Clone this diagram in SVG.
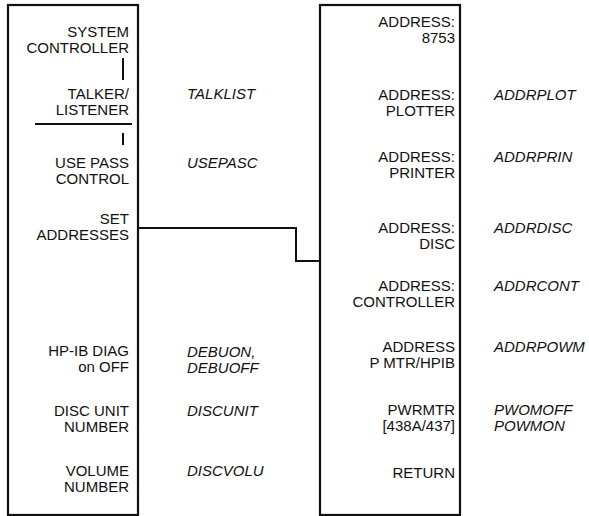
<svg xmlns="http://www.w3.org/2000/svg" width="589" height="516" viewBox="0 0 589 516">
<style>
.box{fill:none;stroke:#111;stroke-width:2.2}
.ln{fill:none;stroke:#111;stroke-width:2}
.t{font-family:"Liberation Sans",Arial,sans-serif;font-size:15px;fill:#111;text-anchor:end}
.i{font-family:"Liberation Sans",Arial,sans-serif;font-size:15px;font-style:italic;fill:#111}
</style>
<rect width="589" height="516" fill="#fff"/>
<g id="menu-left">
<rect class="box" x="8" y="5" width="130" height="510"/>
<text class="t" x="129" y="36.5">SYSTEM</text>
<text class="t" x="129" y="52.5">CONTROLLER</text>
<line class="ln" x1="123" y1="58" x2="123" y2="80"/>
<text class="t" x="129" y="98.5">TALKER/</text>
<text class="t" x="129" y="114.5">LISTENER</text>
<line class="ln" x1="35" y1="124" x2="132" y2="124"/>
<line class="ln" x1="123" y1="133" x2="123" y2="145"/>
<text class="t" x="129" y="167.5">USE PASS</text>
<text class="t" x="129" y="183.5">CONTROL</text>
<text class="t" x="129" y="223.5">SET</text>
<text class="t" x="129" y="239.5">ADDRESSES</text>
<text class="t" x="129" y="355.5">HP-IB DIAG</text>
<text class="t" x="129" y="371.5">on OFF</text>
<text class="t" x="129" y="415.5">DISC UNIT</text>
<text class="t" x="129" y="431.5">NUMBER</text>
<text class="t" x="129" y="475.5">VOLUME</text>
<text class="t" x="129" y="491.5">NUMBER</text>
</g>
<g id="labels-left">
<text class="i" x="187" y="98.5">TALKLIST</text>
<text class="i" x="187" y="167.5">USEPASC</text>
<text class="i" x="187" y="356.5">DEBUON,</text>
<text class="i" x="187" y="372.5">DEBUOFF</text>
<text class="i" x="187" y="415.5">DISCUNIT</text>
<text class="i" x="187" y="475.5">DISCVOLU</text>
</g>
<g id="menu-right">
<rect class="box" x="320" y="5" width="140" height="510"/>
<text class="t" x="455" y="26.5">ADDRESS:</text>
<text class="t" x="455" y="42.5">8753</text>
<text class="t" x="455" y="99.5">ADDRESS:</text>
<text class="t" x="455" y="115.5">PLOTTER</text>
<text class="t" x="455" y="161.5">ADDRESS:</text>
<text class="t" x="455" y="177.5">PRINTER</text>
<text class="t" x="455" y="232.5">ADDRESS:</text>
<text class="t" x="455" y="248.5">DISC</text>
<text class="t" x="455" y="291">ADDRESS:</text>
<text class="t" x="455" y="307">CONTROLLER</text>
<text class="t" x="455" y="351.5">ADDRESS</text>
<text class="t" x="455" y="367.5">P MTR/HPIB</text>
<text class="t" x="455" y="414.5">PWRMTR</text>
<text class="t" x="455" y="430.5">[438A/437]</text>
<text class="t" x="455" y="478">RETURN</text>
</g>
<g id="labels-right">
<text class="i" x="494" y="99.5">ADDRPLOT</text>
<text class="i" x="494" y="161.5">ADDRPRIN</text>
<text class="i" x="494" y="232.5">ADDRDISC</text>
<text class="i" x="494" y="291">ADDRCONT</text>
<text class="i" x="494" y="351.5">ADDRPOWM</text>
<text class="i" x="494" y="414.5">PWOMOFF</text>
<text class="i" x="494" y="430.5">POWMON</text>
</g>
<g id="connectors">
<polyline class="ln" points="138,228 296,228 296,261 320,261"/>
</g>
</svg>
